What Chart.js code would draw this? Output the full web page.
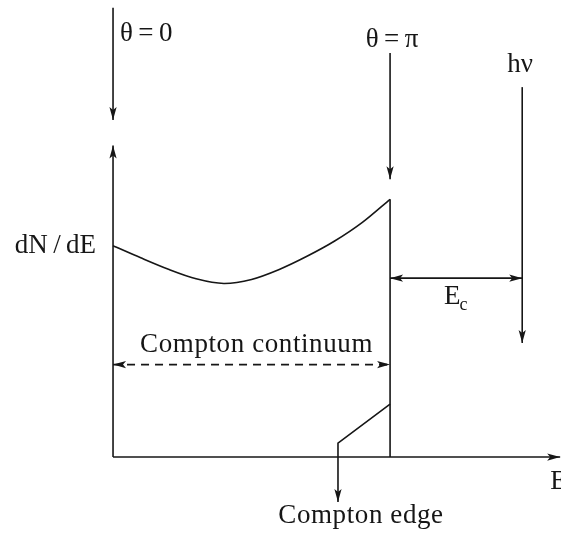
<!DOCTYPE html>
<html>
<head>
<meta charset="utf-8">
<script src="https://cdn.jsdelivr.net/npm/chart.js@4/dist/chart.umd.min.js"></script>
<style>
  html, body { margin: 0; padding: 0; background: #fff; }
  canvas { display: block; }
</style>
</head>
<body>
<canvas id="c" width="561" height="534"></canvas>
<script>
// Energy in arbitrary units: the Compton edge sits at 10, the photon line at 14.77
const energy = [0, 1, 2, 3, 4, 5, 6, 7, 8, 9, 10];
const counts = [9.97, 9.40, 8.86, 8.41, 8.19, 8.38, 8.85, 9.47, 10.19, 11.07, 12.16];
const comptonEdge = 10;
const photonEnergy = 14.77;

// Sketch of the smeared edge and its pointer toward the "Compton edge" label
const edgeEnergy = [10, 8.12, 8.12];
const edgeCounts = [2.5, 0.66, -2.12];

// Axis and marker extents (same units as above)
const yAxisTop = 14.7;
const xAxisEnd = 16.14;
const thetaZeroArrow = [21.2, 15.9];
const thetaPiArrow = [19.06, 13.1];
const photonArrow = [17.45, 5.38];
const ecLevel = 8.44;
const continuumLevel = 4.36;

const ink = '#161616';
const serif = '"Liberation Serif", "DejaVu Serif", serif';

const toPoints = (xs, ys) => xs.map((v, i) => ({ x: v, y: ys[i] }));

const sketch = {
  id: 'sketch',
  afterDatasetsDraw(chart) {
    const { ctx, scales: { x, y } } = chart;
    const px = v => x.getPixelForValue(v);
    const py = v => y.getPixelForValue(v);

    ctx.save();
    ctx.strokeStyle = ink;
    ctx.fillStyle = ink;
    ctx.lineWidth = 1.6;
    ctx.lineCap = 'butt';

    const head = (x1, y1, x2, y2) => {
      const a = Math.atan2(y2 - y1, x2 - x1);
      ctx.save();
      ctx.translate(x2, y2);
      ctx.rotate(a);
      ctx.beginPath();
      ctx.moveTo(0, 0);
      ctx.lineTo(-13, 3.6);
      ctx.lineTo(-10, 0);
      ctx.lineTo(-13, -3.6);
      ctx.closePath();
      ctx.fill();
      ctx.restore();
    };

    const arrow = (e1, n1, e2, n2, both, dash) => {
      const x1 = px(e1), y1 = py(n1), x2 = px(e2), y2 = py(n2);
      ctx.save();
      ctx.setLineDash(dash || []);
      ctx.beginPath();
      ctx.moveTo(x1, y1);
      ctx.lineTo(x2, y2);
      ctx.stroke();
      ctx.restore();
      head(x1, y1, x2, y2);
      if (both) head(x2, y2, x1, y1);
    };

    // axes
    arrow(0, 0, 0, yAxisTop);
    arrow(0, 0, xAxisEnd, 0);

    // angle markers and photon line
    arrow(0, thetaZeroArrow[0], 0, thetaZeroArrow[1]);
    arrow(comptonEdge, thetaPiArrow[0], comptonEdge, thetaPiArrow[1]);
    arrow(photonEnergy, photonArrow[0], photonEnergy, photonArrow[1]);

    // E_c span and continuum span
    arrow(comptonEdge, ecLevel, photonEnergy, ecLevel, true);
    arrow(0, continuumLevel, comptonEdge, continuumLevel, true, [8, 6]);

    // pointer head for the edge sketch
    const n = edgeEnergy.length;
    head(px(edgeEnergy[n - 2]), py(edgeCounts[n - 2]), px(edgeEnergy[n - 1]), py(edgeCounts[n - 1]));

    // labels
    const big = '27px ' + serif;
    const small = '18px ' + serif;
    ctx.font = big;
    ctx.textBaseline = 'middle';
    ctx.letterSpacing = '0px';

    ctx.textAlign = 'left';
    ctx.fillText('θ\u2009=\u20090', px(0) + 7, py(thetaZeroArrow[0]) + 26);

    ctx.textAlign = 'center';
    ctx.fillText('θ\u2009=\u2009π', px(comptonEdge) + 2, py(thetaPiArrow[0]) - 13);
    ctx.fillText('hν', px(photonEnergy) - 2, py(photonArrow[0]) - 22);

    ctx.textAlign = 'right';
    ctx.fillText('dN\u2009/\u2009dE', px(0) - 17, py(counts[0]));

    // E_c with subscript
    const mid = (px(comptonEdge) + px(photonEnergy)) / 2;
    const eW = ctx.measureText('E').width;
    ctx.font = small;
    const cW = ctx.measureText('c').width;
    const left = mid - (eW + cW) / 2;
    ctx.textAlign = 'left';
    ctx.font = big;
    ctx.fillText('E', left, py(ecLevel) + 19);
    ctx.font = small;
    ctx.fillText('c', left + eW - 1, py(ecLevel) + 27);

    ctx.font = big;
    ctx.textAlign = 'center';
    ctx.letterSpacing = '0.6px';
    ctx.fillText('Compton continuum', (px(0) + px(comptonEdge)) / 2 + 5, py(continuumLevel) - 20);
    ctx.fillText('Compton edge', px(edgeEnergy[n - 1]) + 23, py(edgeCounts[n - 1]) + 14);
    ctx.letterSpacing = '0px';

    ctx.textAlign = 'left';
    ctx.fillText('E', px(xAxisEnd) - 10, py(0) + 25);

    ctx.restore();
  }
};

new Chart(document.getElementById('c'), {
  type: 'scatter',
  data: {
    datasets: [
      {
        label: 'dN/dE',
        data: toPoints(energy, counts),
        showLine: true,
        borderColor: ink,
        borderWidth: 1.6,
        pointRadius: 0,
        tension: 0.3
      },
      {
        label: 'edge drop',
        data: toPoints([comptonEdge, comptonEdge], [counts[counts.length - 1], 0]),
        showLine: true,
        borderColor: ink,
        borderWidth: 1.6,
        pointRadius: 0
      },
      {
        label: 'edge sketch',
        data: toPoints(edgeEnergy, edgeCounts),
        showLine: true,
        borderColor: ink,
        borderWidth: 1.6,
        pointRadius: 0
      }
    ]
  },
  options: {
    responsive: false,
    animation: false,
    events: [],
    layout: { padding: 0 },
    plugins: { legend: { display: false }, tooltip: { enabled: false } },
    scales: {
      x: { type: 'linear', min: -4.08, max: 16.17, display: false },
      y: { type: 'linear', min: -3.63, max: 21.56, display: false }
    }
  },
  plugins: [sketch]
});
</script>
</body>
</html>
